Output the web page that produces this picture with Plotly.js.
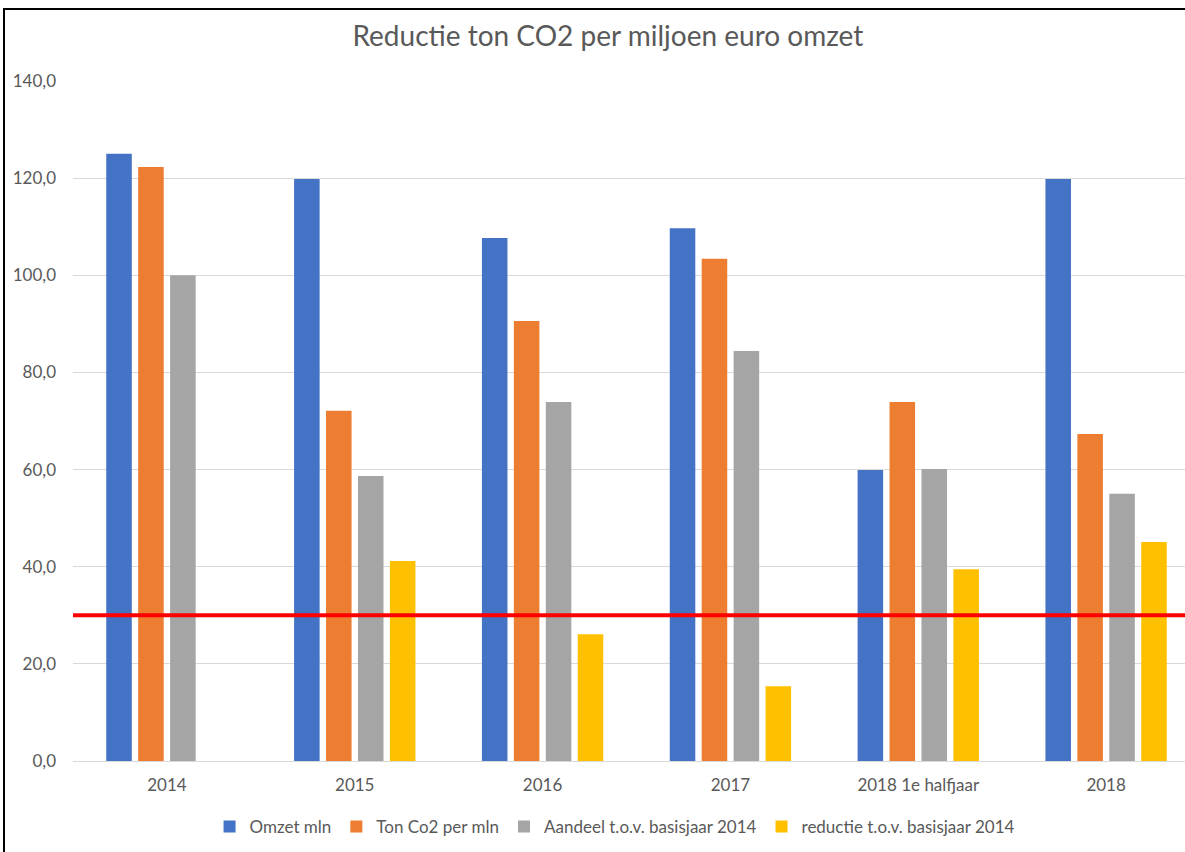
<!DOCTYPE html>
<html><head><meta charset="utf-8">
<script src="https://cdn.plot.ly/plotly-3.0.1.min.js"></script>
<style>
html,body{margin:0;padding:0;background:#fff;}
#wrap{position:relative;width:1185px;height:852px;overflow:hidden;}
#chart{position:absolute;left:0;top:0;width:1185px;height:852px;}
#frame{position:absolute;left:3px;top:8px;width:1300px;height:1000px;border-left:2px solid #000;border-top:2px solid #000;pointer-events:none;}
</style></head>
<body><div id="wrap"><div id="chart"></div><div id="frame"></div></div>
<script>
const categories = ["2014","2015","2016","2017","2018 1e halfjaar","2018"];
const omzet = [125.0, 119.8, 107.7, 109.7, 59.9, 119.8];
const tonCo2 = [122.3, 72.1, 90.6, 103.4, 73.9, 67.3];
const aandeel = [100.0, 58.7, 73.9, 84.4, 60.1, 55.0];
const reductie = [null, 41.2, 26.1, 15.4, 39.5, 45.1];
const targetLine = 30;
const seriesNames = ["Omzet mln","Ton Co2 per mln","Aandeel t.o.v. basisjaar 2014","reductie t.o.v. basisjaar 2014"];
const colors = ["#4472C4","#ED7D31","#A5A5A5","#FFC000"];
const yTicks = [0,20,40,60,80,100,120,140];

const font = "Lato, 'Open Sans', sans-serif";
const series = [omzet, tonCo2, aandeel, reductie];
const data = series.map((vals,i)=>({
  type:"bar", x:categories, y:vals, name:seriesNames[i],
  marker:{color:colors[i]}, hoverinfo:"y+name"
}));

const layout = {
  width:1185, height:852,
  margin:{l:73, r:0, t:81, b:91},
  paper_bgcolor:"#fff", plot_bgcolor:"#fff",
  separators:",.",
  title:{text:"Reductie ton CO2 per miljoen euro omzet", x:0.513, xanchor:"center", y:0.957, yanchor:"middle",
         font:{family:font, size:28, color:"#595959"}},
  barmode:"group", bargap:0.32, bargroupgap:0.2,
  xaxis:{type:"category", range:[-0.5, 5.42], showgrid:false, zeroline:false,
         showline:false, ticks:"", ticklabelstandoff:12, tickfont:{family:font, size:17, color:"#595959"}},
  yaxis:{range:[0,140], tickvals:yTicks, tickformat:".1f", showgrid:true, gridcolor:"#D9D9D9", gridwidth:1,
         zeroline:true, zerolinecolor:"#D9D9D9", zerolinewidth:1, showline:false, ticks:"",
         ticklen:0, ticklabelstandoff:16, tickfont:{family:font, size:17, color:"#595959"}},
  legend:{orientation:"h", x:0.487, xanchor:"center", y:-0.097, yanchor:"middle",
          font:{family:font, size:17, color:"#595959"}, itemwidth:30, traceorder:"normal"},
  shapes:[{type:"line", xref:"paper", x0:0, x1:1, yref:"y", y0:targetLine, y1:targetLine,
           line:{color:"#FF0000", width:4}}]
};
Plotly.newPlot("chart", data, layout, {displayModeBar:false, staticPlot:true});
</script></body></html>
